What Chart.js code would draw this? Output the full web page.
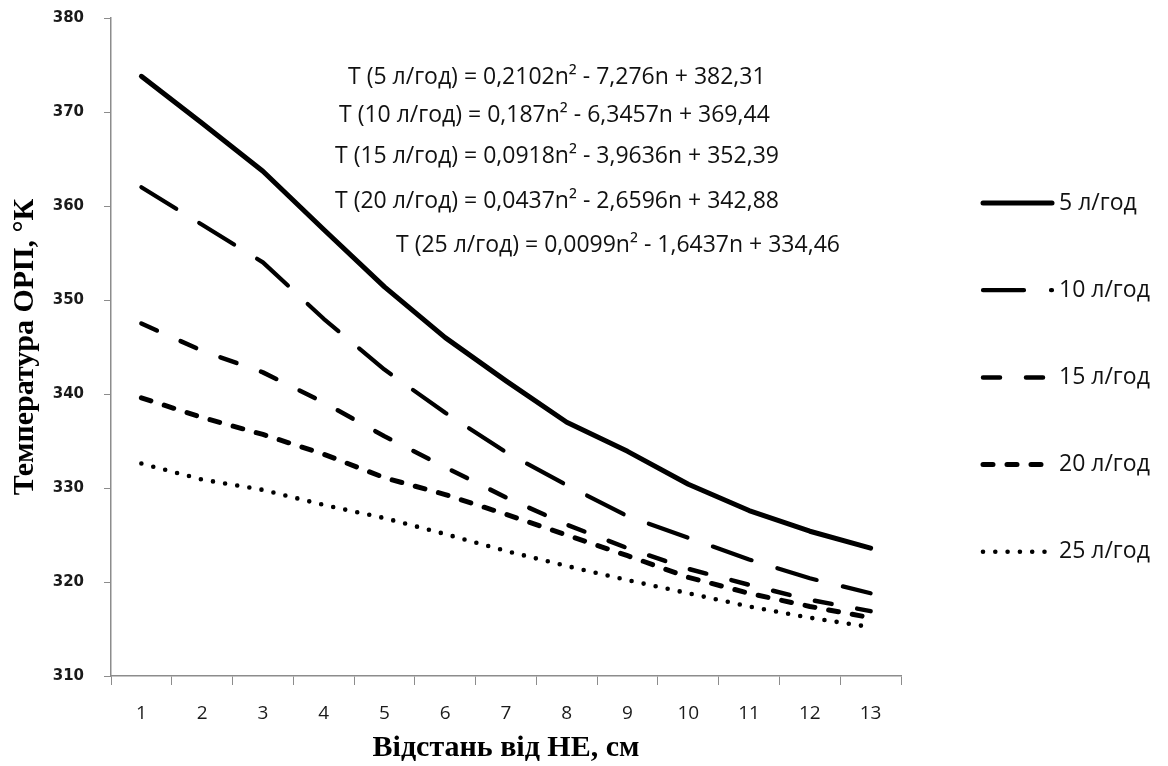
<!DOCTYPE html>
<html>
<head>
<meta charset="utf-8">
<script src="https://cdn.jsdelivr.net/npm/chart.js@4/dist/chart.umd.min.js"></script>
<style>
html,body{margin:0;padding:0;background:#fff;}
#wrap{width:1168px;height:766px;}
</style>
</head>
<body>
<div id="wrap"><canvas id="c" width="1168" height="766"></canvas></div>
<script>
const categories = ['1','2','3','4','5','6','7','8','9','10','11','12','13'];
const seriesNames = ['5 л/год','10 л/год','15 л/год','20 л/год','25 л/год'];
const s5  = [373.8, 368.8, 363.7, 357.5, 351.4, 346.0, 341.4, 337.0, 333.9, 330.4, 327.6, 325.4, 323.6];
const s10 = [362.0, 358.0, 354.0, 348.0, 342.6, 338.0, 333.8, 330.3, 327.0, 324.7, 322.4, 320.4, 318.8];
const s15 = [347.5, 344.6, 342.3, 339.1, 335.5, 332.2, 329.0, 326.1, 323.6, 321.4, 319.7, 318.1, 316.9];
const s20 = [339.6, 337.5, 335.7, 333.6, 331.1, 329.3, 327.2, 325.0, 322.8, 320.5, 318.8, 317.4, 316.2];
const s25 = [332.6, 330.9, 329.8, 328.2, 326.8, 325.1, 323.3, 321.7, 320.2, 318.8, 317.4, 316.2, 315.2];
const yTicks = [310, 320, 330, 340, 350, 360, 370, 380];
const equations = [
  'T (5 л/год) = 0,2102n² - 7,276n + 382,31',
  'T (10 л/год) = 0,187n² - 6,3457n + 369,44',
  'T (15 л/год) = 0,0918n² - 3,9636n + 352,39',
  'T (20 л/год) = 0,0437n² - 2,6596n + 342,88',
  'T (25 л/год) = 0,0099n² - 1,6437n + 334,46'
];
const xTitle = 'Відстань від НЕ, см';
const yTitle = 'Температура ОРП, °К';

// styles
const dashes = [[], [41, 27], [17, 26], [10, 14], [0, 12.3]];
const widths = [5, 4.2, 4.5, 5, 4.6];
const eqPos = [[348, 77], [339, 115], [335, 156], [335, 201], [396, 245]];
const AXIS = '#8c8c8c';
const SANS = '"Open Sans", "DejaVu Sans", sans-serif';
const SERIF = '"Liberation Serif", "Times New Roman", serif';

const seriesData = [s5, s10, s15, s20, s25];
const datasets = seriesData.map((d, i) => ({
  label: seriesNames[i],
  data: d,
  borderColor: '#000',
  backgroundColor: '#000',
  borderWidth: widths[i],
  borderDash: dashes[i],
  borderCapStyle: 'round',
  borderJoinStyle: 'round',
  pointRadius: 0,
  tension: 0,
  fill: false
}));

const overlay = {
  id: 'overlay',
  afterDraw(chart) {
    const ctx = chart.ctx;
    ctx.save();
    ctx.fillStyle = '#111';
    ctx.font = '23px ' + SANS;
    ctx.textBaseline = 'middle';
    ctx.textAlign = 'left';
    equations.forEach((t, i) => ctx.fillText(t, eqPos[i][0], eqPos[i][1]));
    chart.data.datasets.forEach((ds, i) => {
      const y = 203 + i * 87.2;
      ctx.save();
      ctx.strokeStyle = ds.borderColor;
      ctx.lineWidth = ds.borderWidth;
      ctx.lineCap = 'round';
      ctx.setLineDash(ds.borderDash);
      ctx.beginPath();
      ctx.moveTo(983, y);
      ctx.lineTo(1052, y);
      ctx.stroke();
      ctx.restore();
      ctx.fillStyle = '#111';
      ctx.font = '23px ' + SANS;
      ctx.textBaseline = 'middle';
      ctx.fillText(ds.label, 1059, y);
    });
    ctx.restore();
  }
};

new Chart(document.getElementById('c'), {
  type: 'line',
  data: { labels: categories, datasets },
  options: {
    responsive: false,
    animation: false,
    layout: { padding: { left: 0, right: 267, top: 18, bottom: 0 } },
    plugins: { legend: { display: false }, tooltip: { enabled: false } },
    scales: {
      x: {
        type: 'category',
        offset: true,
        afterFit(s) { s.height = 90; s.paddingLeft = 0; s.paddingRight = 0; },
        grid: { display: true, offset: true, drawOnChartArea: false, drawTicks: true, tickLength: 9, color: AXIS, lineWidth: 1 },
        border: { display: true, color: AXIS, width: 1.5 },
        ticks: { color: '#1a1a1a', font: { family: SANS, size: 19 }, padding: 17, maxRotation: 0, autoSkip: false },
        title: { display: true, text: xTitle, color: '#000', font: { family: SERIF, size: 30, weight: 'bold' }, padding: { top: 0, bottom: 0 } }
      },
      y: {
        min: 310, max: 380,
        afterFit(s) { s.width = 111; s.paddingTop = 0; s.paddingBottom = 0; },
        afterBuildTicks(s) { s.ticks = yTicks.map(v => ({ value: v })); },
        grid: { display: true, drawOnChartArea: false, drawTicks: true, tickLength: 7, color: AXIS, lineWidth: 1 },
        border: { display: true, color: AXIS, width: 1.5 },
        ticks: { color: '#1a1a1a', font: { family: '"DejaVu Sans", sans-serif', size: 15, weight: 'bold' }, padding: 20 },
        title: { display: true, text: yTitle, color: '#000', font: { family: SERIF, size: 30, weight: 'bold' }, padding: { top: 7, bottom: 0 } }
      }
    }
  },
  plugins: [overlay]
});
</script>
</body>
</html>
